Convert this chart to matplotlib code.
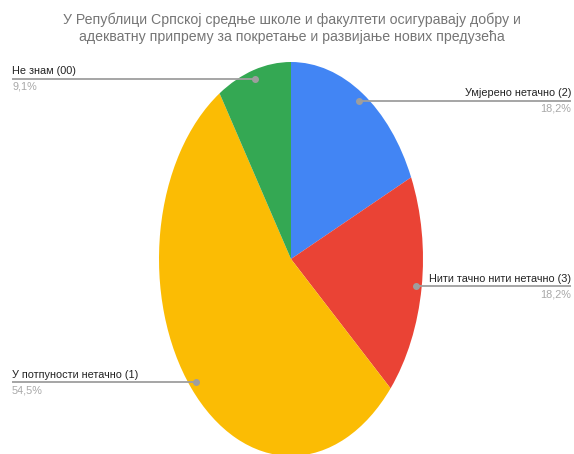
import numpy as np
import matplotlib.pyplot as plt
from matplotlib import font_manager

labels = ['Умјерено нетачно (2)', 'Нити тачно нити нетачно (3)',
          'У потпуности нетачно (1)', 'Не знам (00)']
values = [18.2, 18.2, 54.5, 9.1]
pct_text = ['18,2%', '18,2%', '54,5%', '9,1%']
colors = ['#4285F4', '#EA4335', '#FBBC04', '#34A853']
title = ('У Републици Српској средње школе и факултети осигуравају добру и\n'
         'адекватну припрему за покретање и развијање нових предузећа')

names = {f.name for f in font_manager.fontManager.ttflist}
fam = 'Liberation Sans Narrow' if 'Liberation Sans Narrow' in names else 'Liberation Sans'
plt.rcParams['font.family'] = [fam, 'DejaVu Sans']

W, H = 574, 454
CX, CY, RX, RY = 291, 259, 132, 197  # pie centre and radii in pixels (pie is stretched)

fig = plt.figure(figsize=(W / 100, H / 100), dpi=100)
ax = fig.add_axes([0, 0, 1, 1])
ax.pie(values, colors=colors, startangle=90, counterclock=False,
       radius=1, center=(0, 0), wedgeprops=dict(linewidth=0))
ax.set_aspect('auto')
ax.set_xlim(-CX / RX, (W - CX) / RX)
ax.set_ylim(-(H - CY) / RY, CY / RY)
ax.axis('off')


def px(x, y):
    return (x - CX) / RX, (CY - y) / RY


# label side: right for the first two slices, left for the others
text_x = [571, 571, 12, 12]
sides = ['right', 'right', 'left', 'left']

cum = np.cumsum([0] + values[:-1])
total = sum(values)
for i, v in enumerate(values):
    mid = 90 - (cum[i] + v / 2) / total * 360
    dx = 0.955 * np.cos(np.radians(mid))
    dy = 0.955 * np.sin(np.radians(mid))
    ex, _ = px(text_x[i], 0)
    ax.plot([dx, ex], [dy, dy], color='#9e9e9e', lw=1.3, solid_capstyle='butt')
    ax.plot(dx, dy, 'o', color='#9e9e9e', ms=4)
    ha = sides[i]
    ax.text(ex, dy + 2.5 / RY, labels[i], ha=ha, va='bottom', fontsize=7.8, color='#222222')
    ax.text(ex, dy - 3 / RY, pct_text[i], ha=ha, va='top', fontsize=7.8, color='#a8a8a8')

tx, ty = px(292, 13)
ax.text(tx, ty, title, ha='center', va='top', fontsize=10.2, color='#757575', linespacing=1.25)

fig.savefig('out.png', dpi=100)
